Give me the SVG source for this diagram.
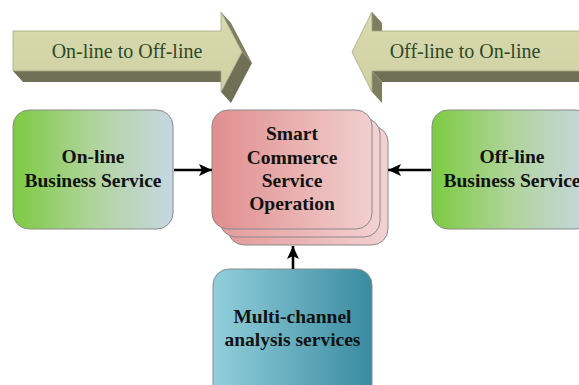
<svg xmlns="http://www.w3.org/2000/svg" width="579" height="385" viewBox="0 0 579 385">
<defs>
<linearGradient id="gArrow" x1="0" y1="0" x2="0" y2="1">
<stop offset="0" stop-color="#d9dbb0"/>
<stop offset="1" stop-color="#cfd1a2"/>
</linearGradient>
<linearGradient id="gGreen" x1="0" y1="0" x2="1" y2="0">
<stop offset="0" stop-color="#7ccb42"/>
<stop offset="0.5" stop-color="#b0d49c"/>
<stop offset="1" stop-color="#c6d7e2"/>
</linearGradient>
<linearGradient id="gPink" x1="0" y1="0" x2="1" y2="0">
<stop offset="0" stop-color="#e08e8e"/>
<stop offset="1" stop-color="#f2cfcf"/>
</linearGradient>
<linearGradient id="gPinkBack" x1="0" y1="0" x2="1" y2="0">
<stop offset="0" stop-color="#e49b9b"/>
<stop offset="1" stop-color="#f3d2d2"/>
</linearGradient>
<linearGradient id="gBlue" x1="0" y1="0" x2="1" y2="0">
<stop offset="0" stop-color="#92cfdc"/>
<stop offset="1" stop-color="#3a8ba0"/>
</linearGradient>
<marker id="ah" markerUnits="userSpaceOnUse" markerWidth="14" markerHeight="12" refX="13" refY="6" orient="auto">
<path d="M0,0 L13,6 L0,12 L3,6 z" fill="#000"/>
</marker>
</defs>
<style>
.front{fill:url(#gArrow);stroke:#a3a585;stroke-width:0.8}
.side{fill:#7e7f62}
.sideDark{fill:#6f7055}
.arrowText{font-family:"Liberation Serif","Times New Roman",serif;font-size:20px;fill:#2d4a2a;text-anchor:middle}
.box{stroke:#8a8a8a;stroke-width:1}
.label{font-family:"Liberation Serif","Times New Roman",serif;font-size:19.5px;font-weight:bold;fill:#111;text-anchor:middle}
.conn{stroke:#000;stroke-width:2.6;fill:none}
</style>

<g id="arrow-online-to-offline">
<polygon class="sideDark" points="13,71 221,71 231,82 23,82"/>
<polygon class="side" points="221,12 242,52 252,63 231,23"/>
<polygon class="sideDark" points="242,52 221,92 231,103 252,63"/>
<polygon class="front" points="13,31 221,31 221,12 242,52 221,92 221,71 13,71"/>
<text class="arrowText" x="127" y="58">On-line to Off-line</text>
</g>

<g id="arrow-offline-to-online">
<polygon class="sideDark" points="372,71 600,71 610,82 382,82"/>
<polygon class="side" points="372,12 372,31 382,42 382,23"/>
<polygon class="side" points="372,71 372,92 382,103 382,82"/>
<polygon class="front" points="352,52 372,12 372,31 600,31 600,71 372,71 372,92"/>
<text class="arrowText" x="465" y="58">Off-line to On-line</text>
</g>

<g id="online-business-service">
<rect class="box" x="13" y="110" width="160" height="119" rx="16" fill="url(#gGreen)"/>
<text class="label" x="93" y="163">On-line</text>
<text class="label" x="93" y="187">Business Service</text>
</g>

<g id="smart-commerce-service-operation">
<rect class="box" x="228" y="126" width="160" height="119" rx="16" fill="url(#gPinkBack)"/>
<rect class="box" x="220" y="118" width="160" height="119" rx="16" fill="url(#gPinkBack)"/>
<rect class="box" x="212" y="110" width="160" height="119" rx="16" fill="url(#gPink)"/>
<text class="label" x="292" y="140">Smart</text>
<text class="label" x="292" y="164">Commerce</text>
<text class="label" x="292" y="187">Service</text>
<text class="label" x="292" y="210">Operation</text>
</g>

<g id="offline-business-service">
<rect class="box" x="432" y="110" width="160" height="119" rx="16" fill="url(#gGreen)"/>
<text class="label" x="512" y="163">Off-line</text>
<text class="label" x="512" y="187">Business Service</text>
</g>

<g id="multichannel-analysis-services">
<rect class="box" x="213" y="269" width="159" height="135" rx="16" fill="url(#gBlue)"/>
<text class="label" x="292.5" y="323">Multi-channel</text>
<text class="label" x="292.5" y="346">analysis services</text>
</g>

<g id="connectors">
<line class="conn" x1="174" y1="170" x2="212" y2="170" marker-end="url(#ah)"/>
<line class="conn" x1="431" y1="170" x2="388" y2="170" marker-end="url(#ah)"/>
<line class="conn" x1="293" y1="269" x2="293" y2="246" marker-end="url(#ah)"/>
</g>
</svg>
